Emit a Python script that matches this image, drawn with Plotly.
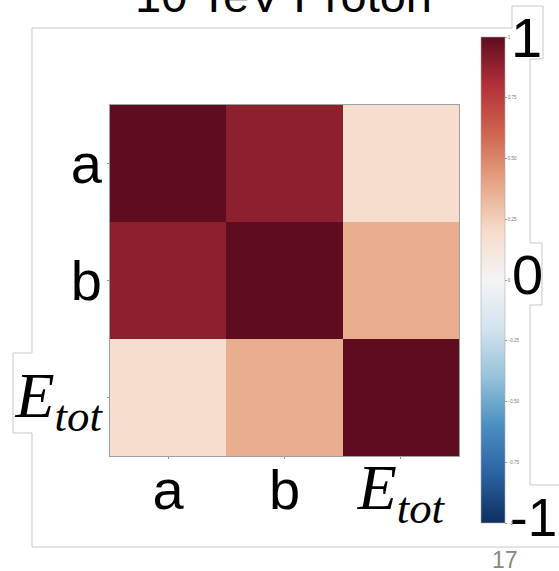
import plotly.graph_objects as go

# ---- data ----
variables = ["a", "b", "E_tot"]
tick_labels = ["a", "b",
               "<span style=\"font-family:'Liberation Serif';font-size:64px\"><i>E<sub>tot</sub></i></span>"]
corr = [
    [1.00, 0.89, 0.19],
    [0.89, 1.00, 0.37],
    [0.19, 0.37, 1.00],
]
cbar_vals = [-1, -0.75, -0.5, -0.25, 0, 0.25, 0.5, 0.75, 1]
cbar_text = ["\u22121", "\u22120.75", "\u22120.50", "\u22120.25", "0", "0.25", "0.50", "0.75", "1"]
title_text = "10 TeV Proton"
page_number = "17"

# RdBu_r (as it appears, slightly washed out, in the slide screenshot)
rdbu = ["#0d2f5e", "#2a62a3", "#4a8fc0", "#96c2db", "#d3e3ee", "#f4f4f4",
        "#f7dccb", "#e6a586", "#d06550", "#b3303a", "#5f0c20"]
colorscale = [[i / 10, c] for i, c in enumerate(rdbu)]

W, H = 559, 571
L, R, T, B = 110, 459, 105, 456  # plot area in pixels


def px(x):
    return (x - L) / (R - L)


def py(y):
    return (B - y) / (B - T)


fig = go.Figure()
fig.add_trace(go.Heatmap(
    z=corr, x=variables, y=variables,
    zmin=-1, zmax=1, colorscale=colorscale,
    xgap=0, ygap=0,
    colorbar=dict(
        thickness=24, thicknessmode="pixels",
        len=(523 - 37) / (B - T), lenmode="fraction",
        x=px(481), xanchor="left", xpad=0,
        y=py(280), yanchor="middle", ypad=0,
        outlinewidth=0.6, outlinecolor="#aaaaaa",
        tickvals=cbar_vals, ticktext=cbar_text,
        ticks="outside", ticklen=2, tickcolor="#999999", tickwidth=0.5,
        tickfont=dict(size=4.5, color="#777777", family="Liberation Sans"),
    ),
))

# slide frame (union outline of the image border and overlapping text boxes)
pts = [(32, 28), (512, 28), (512, 6), (543, 6), (543, 59), (530, 59), (530, 243),
       (542, 243), (542, 305), (530, 305), (530, 485), (565, 485), (565, 547),
       (32, 547), (32, 433), (13, 433), (13, 353), (32, 353)]
path = "M " + " L ".join(f"{px(x):.5f},{py(y):.5f}" for x, y in pts) + " Z"
fig.add_shape(type="path", path=path, xref="paper", yref="paper",
              line=dict(color="#c8c8c8", width=1), fillcolor="white", layer="below")

for txt, x, y, s in [("1", 526, 37, 56), ("0", 527, 274, 56), ("-1", 533, 517, 53)]:
    fig.add_annotation(text=txt, x=px(x), y=py(y), xref="paper", yref="paper",
                       xanchor="center", yanchor="middle", showarrow=False,
                       font=dict(family="Liberation Sans", size=s, color="black"))

fig.add_annotation(text=title_text, x=px(283), y=py(24), xref="paper", yref="paper",
                   xanchor="center", yanchor="bottom", showarrow=False,
                   font=dict(family="Liberation Sans", size=47, color="black"))
fig.add_annotation(text=page_number, x=px(505), y=py(560), xref="paper", yref="paper",
                   xanchor="center", yanchor="middle", showarrow=False,
                   font=dict(family="Liberation Sans", size=23, color="#888888"))

axis_common = dict(
    tickvals=variables, ticktext=tick_labels,
    ticks="outside", ticklen=2, tickcolor="#999999", tickwidth=0.6,
    showline=True, linecolor="#a0a0a0", linewidth=0.8, mirror=True,
    showgrid=False, zeroline=False,
    tickfont=dict(family="Liberation Sans", size=56, color="black"),
)
fig.update_xaxes(**axis_common, ticklabelstandoff=-17)
fig.update_yaxes(**axis_common, autorange="reversed", ticklabelstandoff=-6)

fig.update_layout(
    width=W, height=H,
    margin=dict(l=L, r=W - R, t=T, b=H - B, autoexpand=False),
    paper_bgcolor="white", plot_bgcolor="white",
    showlegend=False,
)

fig.write_html("out.html")
